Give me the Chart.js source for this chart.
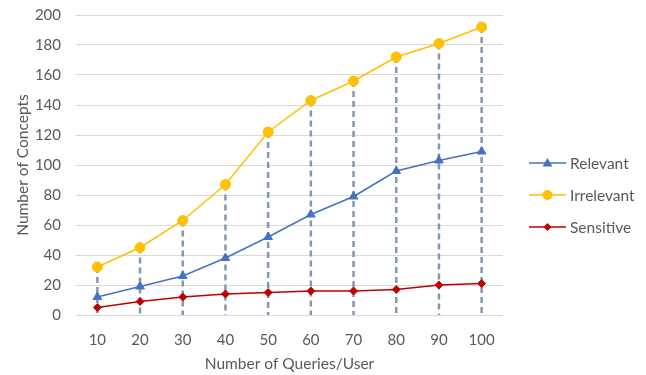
<!DOCTYPE html>
<html>
<head>
<meta charset="utf-8">
<script src="https://cdn.jsdelivr.net/npm/chart.js@4"></script>
<style>
  html, body { margin: 0; padding: 0; background: #fff; }
  #wrap { width: 646px; height: 375px; position: relative; }
  #legend { position: absolute; left: 529px; top: 155px; font-family: Lato, "Open Sans", sans-serif; font-size: 15.5px; color: #595959; }
  .item { height: 32px; display: flex; align-items: center; margin-top: -8px; margin-bottom: 8px; }
  .item canvas { margin-right: 4px; }
</style>
</head>
<body>
<div id="wrap">
  <canvas id="myChart" width="646" height="375"></canvas>
  <div id="legend"></div>
</div>
<script>
var queries = ['10', '20', '30', '40', '50', '60', '70', '80', '90', '100'];
var relevant = [12, 19, 26, 38, 52, 67, 79, 96, 103, 109];
var irrelevant = [32, 45, 63, 87, 122, 143, 156, 172, 181, 192];
var sensitive = [5, 9, 12, 14, 15, 16, 16, 17, 20, 21];
var yTicks = [0, 20, 40, 60, 80, 100, 120, 140, 160, 180, 200];

var textColor = '#595959';
var fontName = 'Lato, "Open Sans", sans-serif';

// line + marker icon for the legend
function legendIcon(color, style, radius) {
  var c = document.createElement('canvas');
  c.width = 37; c.height = 14;
  var g = c.getContext('2d');
  g.strokeStyle = color;
  g.lineWidth = 1.5;
  g.beginPath(); g.moveTo(0, 7); g.lineTo(37, 7); g.stroke();
  g.fillStyle = color;
  g.beginPath();
  if (style == 'circle') {
    g.arc(18.5, 7, radius, 0, Math.PI * 2);
  } else if (style == 'triangle') {
    g.moveTo(18.5, 7 - radius); g.lineTo(18.5 + radius, 7 + radius * 0.7); g.lineTo(18.5 - radius, 7 + radius * 0.7);
  } else {
    g.moveTo(18.5, 7 - radius); g.lineTo(18.5 + radius, 7); g.lineTo(18.5, 7 + radius); g.lineTo(18.5 - radius, 7);
  }
  g.closePath();
  g.fill();
  return c;
}

//DROP LINES from the top series down to zero
var dropLines = {
  id: 'dropLines',
  beforeDatasetsDraw(chart) {
    var ctx = chart.ctx;
    var meta = chart.getDatasetMeta(1);
    var y0 = chart.scales.y.getPixelForValue(0);
    ctx.save();
    ctx.strokeStyle = '#8497b0';
    ctx.lineWidth = 2.5;
    ctx.setLineDash([6, 4]);
    meta.data.forEach(function (pt) {
      ctx.beginPath();
      ctx.moveTo(pt.x, pt.y);
      ctx.lineTo(pt.x, y0);
      ctx.stroke();
    });
    ctx.restore();
  }
};

var ctx = document.getElementById('myChart').getContext('2d');
var myChart = new Chart(ctx, {
  type: 'line',
  data: {
    labels: queries,
    datasets: [{
      label: 'Relevant',
      data: relevant,
      borderColor: '#4472c4',
      backgroundColor: '#4472c4',
      borderWidth: 1.5,
      pointStyle: 'triangle',
      pointRadius: 5,
      pointBorderWidth: 1
    }, {
      label: 'Irrelevant',
      data: irrelevant,
      borderColor: '#ffc000',
      backgroundColor: '#ffc000',
      borderWidth: 1.5,
      pointStyle: 'circle',
      pointRadius: 5,
      pointBorderWidth: 1
    }, {
      label: 'Sensitive',
      data: sensitive,
      borderColor: '#c00000',
      backgroundColor: '#c00000',
      borderWidth: 1.5,
      pointStyle: 'rectRot',
      pointRadius: 4,
      pointBorderWidth: 1
    }]
  },
  options: {
    responsive: false,
    animation: false,
    layout: { padding: { top: 15, right: 143, left: 0, bottom: 0 } },
    plugins: {
      tooltip: { enabled: false },
      legend: { display: false }
    },
    scales: {
      x: {
        offset: true,
        grid: { display: false },
        border: { display: false },
        afterFit: function (axis) { axis.height = 60; },
        ticks: { color: textColor, font: { family: fontName, size: 15 }, padding: 8 },
        title: { display: true, text: 'Number of Queries/User', color: textColor, font: { family: fontName, size: 15.5 }, padding: { top: 0, bottom: 2 } }
      },
      y: {
        min: 0,
        max: 200,
        afterBuildTicks: function (axis) {
          axis.ticks = yTicks.map(function (v) { return { value: v }; });
        },
        afterFit: function (axis) {
          axis.width = 76;
          axis.paddingTop = 0;
          axis.paddingBottom = 0;
        },
        grid: { color: '#d9d9d9', lineWidth: 1, drawTicks: false },
        border: { display: false },
        ticks: { color: textColor, font: { family: fontName, size: 15 }, padding: 15 },
        title: { display: true, text: 'Number of Concepts', color: textColor, font: { family: fontName, size: 15.5 }, padding: { top: 14, bottom: 4 } }
      }
    }
  },
  plugins: [dropLines]
});

// HTML legend next to the plot
var legendDiv = document.getElementById('legend');
myChart.data.datasets.forEach(function (ds) {
  var item = document.createElement('div');
  item.className = 'item';
  item.appendChild(legendIcon(ds.borderColor, ds.pointStyle, ds.pointRadius));
  var span = document.createElement('span');
  span.textContent = ds.label;
  item.appendChild(span);
  legendDiv.appendChild(item);
});
</script>
</body>
</html>
